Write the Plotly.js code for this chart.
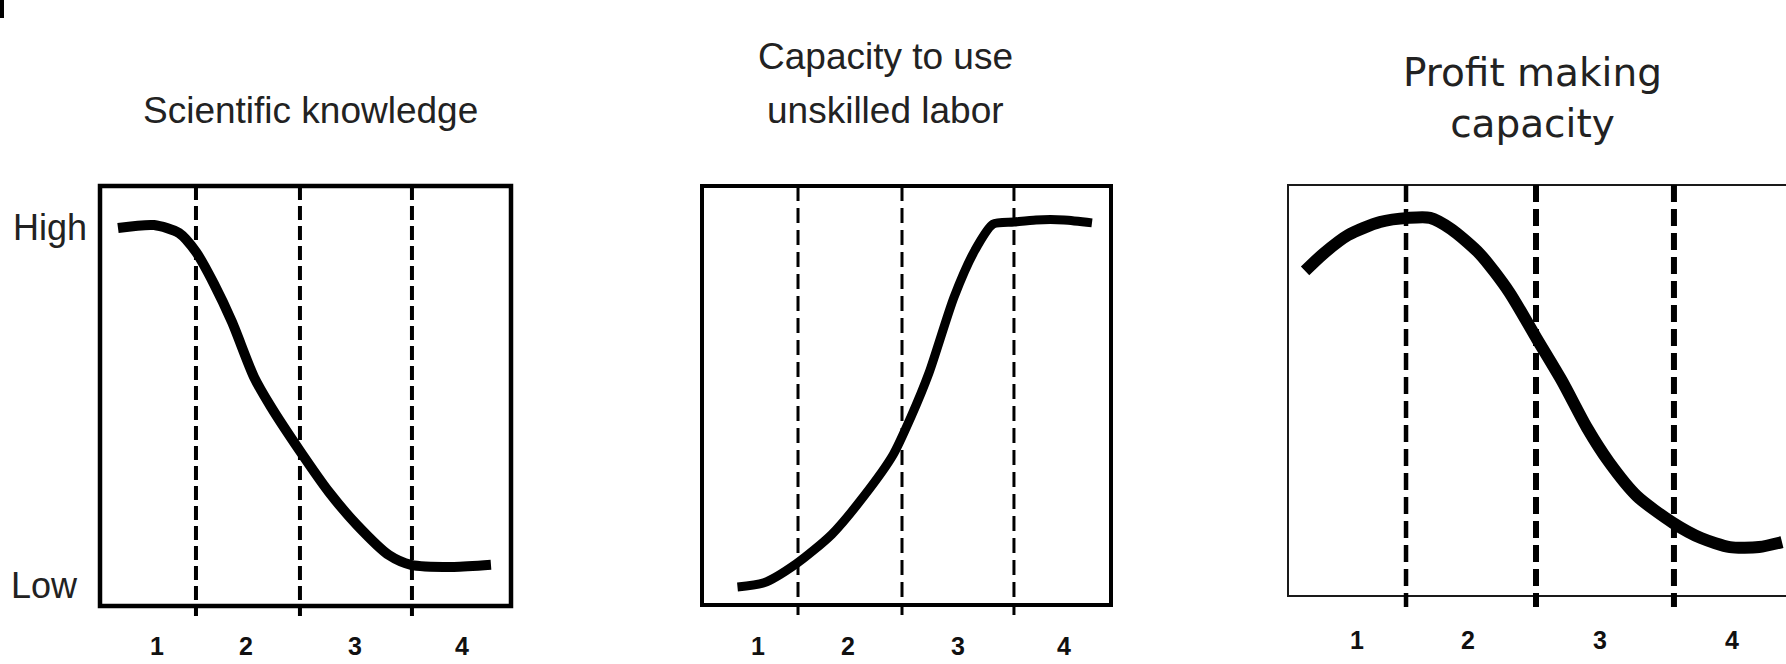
<!DOCTYPE html>
<html>
<head>
<meta charset="utf-8">
<script src="https://cdn.plot.ly/plotly-3.0.1.min.js"></script>
<style>
html,body{margin:0;padding:0;background:#fff;}
#chart{width:1786px;height:664px;}
</style>
</head>
<body>
<div id="chart"></div>
<script>
// ---- data ----
const stageLabels = ['1', '2', '3', '4'];
const levelLabels = ['High', 'Low&nbsp;'];
const levelValues = [0.902, 0.05];

const titles = ['Scientific knowledge', 'Capacity to use', 'unskilled labor', 'Profit making<br>capacity'];

// Scientific knowledge (stage axis 0..4, level 0..1)
const sciX = [0.175, 0.526, 0.769, 0.934, 1.109, 1.285, 1.499, 1.664, 1.946, 2.229, 2.501, 2.813, 3.027, 3.445, 3.805];
const sciY = [0.900, 0.907, 0.888, 0.843, 0.767, 0.676, 0.545, 0.474, 0.369, 0.271, 0.193, 0.121, 0.098, 0.093, 0.098];
const sciBounds = [0.934, 1.946, 3.036];
const sciLabelPos = [0.555, 1.421, 2.482, 3.523];

// Capacity to use unskilled labor
const labX = [0.347, 0.606, 0.919, 1.271, 1.584, 1.868, 2.044, 2.220, 2.465, 2.670, 2.846, 3.051, 3.267, 3.540, 3.814];
const labY = [0.043, 0.053, 0.098, 0.169, 0.260, 0.358, 0.449, 0.554, 0.735, 0.847, 0.909, 0.914, 0.919, 0.919, 0.912];
const labBounds = [0.939, 1.956, 3.051];
const labLabelPos = [0.548, 1.428, 2.504, 3.540];

// Profit making capacity
const proX = [0.137, 0.281, 0.482, 0.739, 0.972, 1.141, 1.309, 1.542, 1.775, 2.000, 2.201, 2.402, 2.578, 2.803, 3.092, 3.317, 3.550, 3.783, 3.968];
const proY = [0.791, 0.832, 0.878, 0.910, 0.920, 0.920, 0.893, 0.832, 0.740, 0.625, 0.523, 0.409, 0.326, 0.243, 0.178, 0.141, 0.119, 0.119, 0.131];
const proBounds = [0.948, 1.992, 3.100];
const proLabelPos = [0.554, 1.446, 2.506, 3.566];

// ---- styling ----
const W = 1786, H = 664;
const arial = '"Liberation Sans", Arial, sans-serif';
const dejavu = '"DejaVu Sans", Verdana, sans-serif';

function px(x) { return x / W; }
function py(y) { return 1 - y / H; }

const panels = [
  {x: sciX, y: sciY, bounds: sciBounds, lab: sciLabelPos, xd: [100, 511], yd: [186, 606],
   lw: 10, boxW: 4.5, boxX1: 1, dashW: [4, 4, 4], dash: '14px,6px', ext: 0.024,
   tickFont: {family: arial, size: 25, color: '#111', weight: 'bold'}, standoff: 23},
  {x: labX, y: labY, bounds: labBounds, lab: labLabelPos, xd: [702, 1111], yd: [186, 605],
   lw: 9, boxW: 4, boxX1: 1, dashW: [3, 3, 3], dash: '15px,7px', ext: 0.024,
   tickFont: {family: arial, size: 25, color: '#111', weight: 'bold'}, standoff: 24},
  {x: proX, y: proY, bounds: proBounds, lab: proLabelPos, xd: [1288, 1786], yd: [185, 596],
   lw: 12, boxW: 2, boxX1: 1.2, dashW: [4.5, 6, 6], dash: '17px,7px', ext: 0.027,
   tickFont: {family: arial, size: 25, color: '#111', weight: 'bold'}, standoff: 27}
];

const data = [];
const shapes = [];
const layout = {
  width: W, height: H,
  margin: {l: 0, r: 0, t: 0, b: 0},
  paper_bgcolor: '#ffffff',
  plot_bgcolor: 'rgba(0,0,0,0)',
  showlegend: false,
  annotations: [],
  shapes: shapes
};

panels.forEach((p, i) => {
  const n = i + 1;
  const xa = 'xaxis' + (n === 1 ? '' : n);
  const ya = 'yaxis' + (n === 1 ? '' : n);
  const xr = 'x' + (n === 1 ? '' : n);
  const yr = 'y' + (n === 1 ? '' : n);

  data.push({
    type: 'scatter', mode: 'lines', x: p.x, y: p.y, xaxis: xr, yaxis: yr,
    line: {color: '#000', width: p.lw, shape: 'spline', smoothing: 0.7},
    hoverinfo: 'skip'
  });

  layout[xa] = {
    domain: [px(p.xd[0]), Math.min(1, px(p.xd[1]))],
    range: [0, 4], fixedrange: true,
    showgrid: false, zeroline: false, showline: false,
    ticks: '', tickmode: 'array', tickvals: p.lab, ticktext: stageLabels,
    tickfont: p.tickFont, ticklabelstandoff: p.standoff,
    anchor: yr
  };
  layout[ya] = {
    domain: [py(p.yd[1]), py(p.yd[0])],
    range: [0, 1], fixedrange: true,
    showgrid: false, zeroline: false, showline: false,
    ticks: '', anchor: xr,
    showticklabels: n === 1,
    tickmode: 'array', tickvals: n === 1 ? levelValues : [], ticktext: n === 1 ? levelLabels : [],
    tickfont: {family: arial, size: 36, color: '#222'},
    ticklabelstandoff: 12
  };

  // frame
  shapes.push({
    type: 'rect', xref: xr + ' domain', yref: yr + ' domain',
    x0: 0, x1: p.boxX1, y0: 0, y1: 1,
    line: {color: n === 3 ? '#1a1a1a' : '#000', width: p.boxW}, fillcolor: 'rgba(0,0,0,0)', layer: 'above'
  });
  // stage boundaries
  p.bounds.forEach((b, k) => {
    shapes.push({
      type: 'line', xref: xr, yref: yr + ' domain',
      x0: b, x1: b, y0: 1, y1: -p.ext,
      line: {color: '#000', width: p.dashW[k], dash: p.dash}, layer: 'above'
    });
  });
});

// titles
layout.annotations.push(
  {text: titles[0], xref: 'paper', yref: 'paper', x: px(310), y: py(110), xanchor: 'center', yanchor: 'middle',
   showarrow: false, font: {family: arial, size: 37, color: '#222'}},
  {text: titles[1], xref: 'paper', yref: 'paper', x: px(885), y: py(57), xanchor: 'center', yanchor: 'middle',
   showarrow: false, font: {family: arial, size: 37, color: '#222'}},
  {text: titles[2], xref: 'paper', yref: 'paper', x: px(885), y: py(110), xanchor: 'center', yanchor: 'middle',
   showarrow: false, font: {family: arial, size: 37, color: '#222'}},
  {text: titles[3], xref: 'paper', yref: 'paper', x: px(1532), y: py(98), xanchor: 'center', yanchor: 'middle',
   showarrow: false, font: {family: dejavu, size: 39, color: '#222'}}
);

// small black mark at the top-left corner of the page
shapes.push({type: 'rect', xref: 'paper', yref: 'paper', x0: 0, x1: px(4), y0: py(18), y1: 1,
  line: {width: 0}, fillcolor: '#000'});

Plotly.newPlot('chart', data, layout, {staticPlot: true, displayModeBar: false});
</script>
</body>
</html>
